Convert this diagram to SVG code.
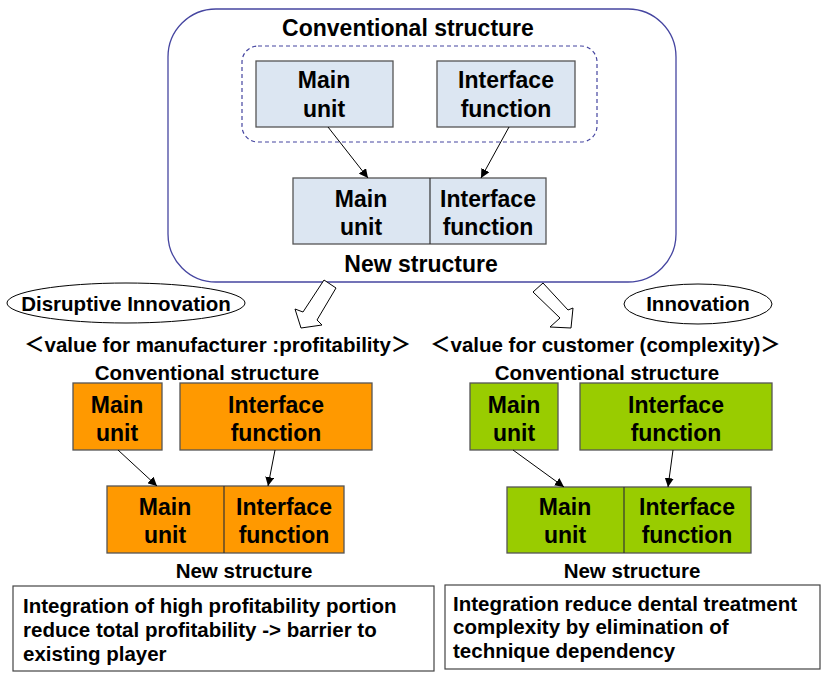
<svg xmlns="http://www.w3.org/2000/svg" width="827" height="675" viewBox="0 0 827 675">
<defs>
<style>
text{font-family:"Liberation Sans",Arial,"Noto Sans CJK JP",sans-serif;font-weight:bold;fill:#000}
.c{text-anchor:middle}
.box{font-size:23px}
.blue{fill:#dce6f2;stroke:#555;stroke-width:1.3}
.org{fill:#ff9900;stroke:#555;stroke-width:1.3}
.grn{fill:#99cc00;stroke:#555;stroke-width:1.3}
.lbl{font-size:20.5px}
.sub{font-size:20.5px}
.body{font-size:20.5px}
.conn{stroke:#000;stroke-width:1;fill:none;marker-end:url(#ah)}
.hollow{fill:#fff;stroke:#000;stroke-width:1}
</style>
<marker id="ah" viewBox="0 0 10 10" refX="10" refY="5" markerWidth="9" markerHeight="9" orient="auto" markerUnits="userSpaceOnUse">
<path d="M0,0 L10,5 L0,10 z" fill="#000"/>
</marker>
</defs>
<rect width="827" height="675" fill="#fff"/>

<g id="top-frame">
<rect x="168" y="9" width="508" height="273" rx="48" ry="48" fill="none" stroke="#4545a0" stroke-width="1.3"/>
<text class="c" x="408" y="36" style="font-size:23px">Conventional structure</text>
<rect x="242" y="46" width="355" height="96" rx="16" ry="16" fill="none" stroke="#4545a0" stroke-width="1.2" stroke-dasharray="4,3"/>
<text class="c" x="421" y="272" style="font-size:23px">New structure</text>
</g>

<g id="top-main">
<rect class="blue" x="256" y="61" width="137" height="66"/>
<text class="c box" x="324" y="88">Main</text>
<text class="c box" x="324" y="117">unit</text>
</g>
<g id="top-interface">
<rect class="blue" x="437" y="61" width="138" height="66"/>
<text class="c box" x="506" y="88">Interface</text>
<text class="c box" x="506" y="117">function</text>
</g>
<g id="top-new">
<rect class="blue" x="293" y="178" width="253" height="66"/>
<line x1="430" y1="178" x2="430" y2="244" stroke="#333" stroke-width="1.2"/>
<text class="c box" x="361" y="207">Main</text>
<text class="c box" x="361" y="235">unit</text>
<text class="c box" x="488" y="207">Interface</text>
<text class="c box" x="488" y="235">function</text>
</g>

<g id="ellipse-disruptive">
<ellipse cx="126" cy="303" rx="119" ry="20" fill="#fff" stroke="#000" stroke-width="1"/>
<text class="c" x="126" y="311" style="font-size:20.5px">Disruptive Innovation</text>
</g>
<g id="ellipse-innovation">
<ellipse cx="698" cy="304" rx="74" ry="20" fill="#fff" stroke="#000" stroke-width="1"/>
<text class="c" x="698" y="311" style="font-size:20.5px">Innovation</text>
</g>

<g id="left-heading">
<text x="24" y="352" class="lbl">＜value for manufacturer :profitability＞</text>
<text class="c sub" x="207" y="380">Conventional structure</text>
</g>
<g id="right-heading">
<text x="430" y="352" class="lbl">＜value for customer (complexity)＞</text>
<text class="c sub" x="607" y="380">Conventional structure</text>
</g>

<g id="left-main">
<rect class="org" x="73" y="383" width="89" height="67"/>
<text class="c box" x="117" y="413">Main</text>
<text class="c box" x="117" y="441">unit</text>
</g>
<g id="left-interface">
<rect class="org" x="180" y="383" width="192" height="67"/>
<text class="c box" x="276" y="413">Interface</text>
<text class="c box" x="276" y="441">function</text>
</g>
<g id="left-new">
<rect class="org" x="107" y="486" width="237" height="67"/>
<line x1="224" y1="486" x2="224" y2="553" stroke="#333" stroke-width="1.2"/>
<text class="c box" x="165" y="515">Main</text>
<text class="c box" x="165" y="543">unit</text>
<text class="c box" x="284" y="515">Interface</text>
<text class="c box" x="284" y="543">function</text>
<text class="c sub" x="244" y="578">New structure</text>
</g>

<g id="right-main">
<rect class="grn" x="470" y="383" width="88" height="67"/>
<text class="c box" x="514" y="413">Main</text>
<text class="c box" x="514" y="441">unit</text>
</g>
<g id="right-interface">
<rect class="grn" x="580" y="383" width="192" height="67"/>
<text class="c box" x="676" y="413">Interface</text>
<text class="c box" x="676" y="441">function</text>
</g>
<g id="right-new">
<rect class="grn" x="507" y="487" width="244" height="66"/>
<line x1="624" y1="487" x2="624" y2="553" stroke="#333" stroke-width="1.2"/>
<text class="c box" x="565" y="515">Main</text>
<text class="c box" x="565" y="543">unit</text>
<text class="c box" x="687" y="515">Interface</text>
<text class="c box" x="687" y="543">function</text>
<text class="c sub" x="632" y="578">New structure</text>
</g>

<g id="left-note">
<rect x="13" y="586" width="421" height="85" fill="#fff" stroke="#444" stroke-width="1.2"/>
<text class="body" x="23" y="613">Integration of high profitability portion</text>
<text class="body" x="23" y="637">reduce total profitability -&gt; barrier to</text>
<text class="body" x="23" y="661">existing player</text>
</g>
<g id="right-note">
<rect x="445" y="585" width="375" height="84" fill="#fff" stroke="#444" stroke-width="1.2"/>
<text class="body" x="453" y="611">Integration reduce dental treatment</text>
<text class="body" x="453" y="634">complexity by elimination of</text>
<text class="body" x="453" y="658">technique dependency</text>
</g>

<g id="connectors">
<line class="conn" x1="328" y1="127" x2="368" y2="178"/>
<line class="conn" x1="509" y1="127" x2="481" y2="178"/>
<line class="conn" x1="118" y1="450" x2="157" y2="486"/>
<line class="conn" x1="275" y1="450" x2="268" y2="486"/>
<line class="conn" x1="513" y1="450" x2="564" y2="487"/>
<line class="conn" x1="673" y1="450" x2="668" y2="487"/>
<polygon class="hollow" points="324,280 336,288 317,320 322,325 301,328 295,309 303,312"/>
<polygon class="hollow" points="533,292 543,283 568,310 573,308 571,328 550,327 560,318"/>
</g>
</svg>
